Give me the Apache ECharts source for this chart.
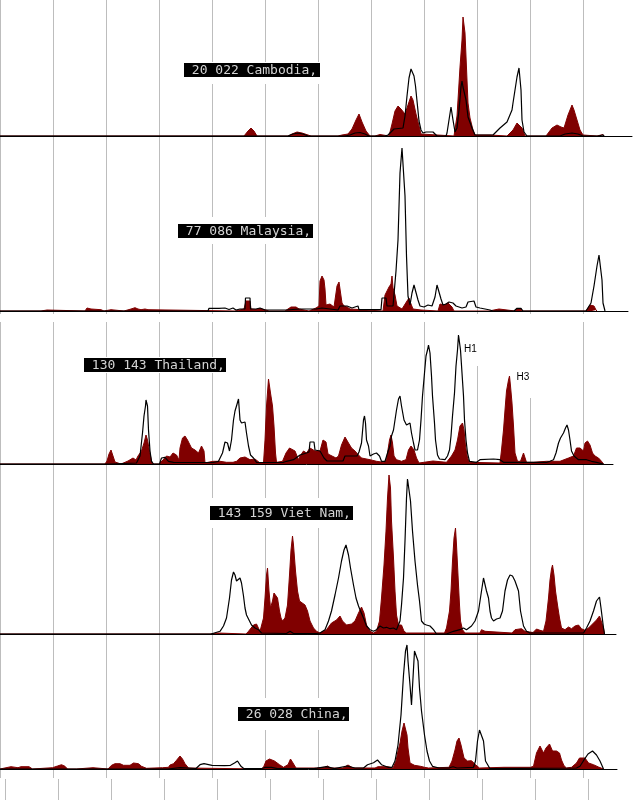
<!DOCTYPE html>
<html>
<head>
<meta charset="utf-8">
<title>Influenza H1 / H3 by country</title>
<script src="https://cdn.jsdelivr.net/npm/echarts@6.0.0/dist/echarts.min.js"></script>
<style>
html, body { margin: 0; padding: 0; background: #fff; }
#main { width: 640px; height: 800px; }
</style>
</head>
<body>
<div id="main"></div>
<script>
// x = week position (53 per gridline), y = relative height
var countries = ['Cambodia', 'Malaysia', 'Thailand', 'Viet Nam', 'China'];
var totals = ['20 022', '77 086', '130 143', '143 159', '26 028'];
var subtypes = ['H1', 'H3'];

var cambodiaH3 = [[0,0],[244,0],[248,5],[251,8],[254,5],[257,0],
  [288,0],[292,2],[297,4],[302,3],[308,1],[311,0],
  [338,0],[342,1],[348,2],[352,7],[356,16],[359,22],[362,14],[366,5],[370,0],
  [375,0],[376,1.5],[380,1.5],[381,0],
  [389,0],[392,12],[395,25],[398,30],[401,27],[403,28],[405,22],[407,21],[409,34],[411,40],[413,36],[416,22],[419,10],[421,2],[423,0],
  [454,0],[457,20],[458,36],[460,69],[462,96],[463,119],[464,120],[465,103],[467,56],[468,33],[470,18],[473,6],[475,1],[490,1],[491,0],
  [507,0],[513,6],[517,13],[518,14],[522,8],[525,0],
  [546,0],[552,8],[557,11],[561,9],[564,8],[568,21],[572,31],[574,26],[577,16],[580,6],[583,1],[585,0],
  [597,0],[598,1.5],[603,1.5],[604,0]];
var cambodiaH1 = [[0,0],[288,0],[293,2],[298,3],[303,2],[308,0],
  [345,0],[350,1],[355,3],[360,3.5],[365,2],[369,0],
  [385,0],[388,1],[394,7],[403,8],[405,20],[407,40],[409,58],[411,67],[412.5,68],[414,60],[415.5,50],[417,35],[419,15],[421,6],[423,3],[426,4],[433,4],[437,0],
  [446,0],[447,3],[449,16],[451,29],[452,28],[453,16],[455,4],[457,8],[459,26],[461,49],[462,55],[463,49],[466,36],[468,19],[472,8],[475,1],[493,1],
  [500,8],[507,14],[512,26],[513,33],[517,59],[519,68],[521,46],[522,16],[524,4],[527,0],
  [560,0],[565,2],[572,3],[578,2],[583,0],
  [598,0],[600,1],[603,1],[604,0]];

var malaysiaH3 = [[0,0],[41,0],[42,1],[47,1],[48,0],
  [85,0],[87,3],[89,5],[91,2],[93,1.3],[101,1.3],[102,0],[104,0],[105,1.3],[111,1.3],[112,0],
  [124,0],[125,2],[131,2],[135,3.3],[138,2],[141,1.3],[145,2],[148,1.3],[150,0],
  [235,0],[237,1.5],[244,2],[246,10],[250,10],[251,2],[256,1.5],[260,2.5],[264,1.5],[269,0],
  [285,0],[287,2],[291,4],[293,6],[296,4],[299,2],[301,0],
  [309,0],[311,2],[316,3],[319,5],[320,30],[322,35],[324,31],[325,22],[326,6],[328,5],[330,7],[334,4],[336,6],[337,25],[339,29],[341,28],[342,8],[344,5],[347,4],[350,2],[352,0],
  [383,0],[385,16],[387,20],[389,24],[391,27],[392,35],[393,23],[395,16],[397,5],[399,3],[402,2],[404,3],[407,10],[409,13],[411,7],[413,2],[421,1],[422,0],
  [438,0],[440,7],[444,6],[448,8],[452,4],[454,0],
  [489,0],[490,2],[499,2],[500,0],[515,0],[517,2.5],[521,2.5],[522,0],
  [586,0],[588,3],[590,6],[592,8],[594,5],[596,1],[597,0]];
var malaysiaH1 = [[0,0],[208,0],[209,2.7],[219,2.7],[221,1],[225,3],[229,1.5],[233,3],[236,1],[240,2],[245,2],[245.5,13],[250,13],[250.5,2],
  [256,2],[260,3],[265,1],[286,1],[300,2],[316,2],[317,3],[322,3],[323,1],[338,1],[340,5],[347,5],[348,3],[352,3],[352.5,5],[358,5],[359,1.3],
  [381,1.3],[382,13],[386,13],[387,5],[393,5],[396,40],[398,71],[400,138],[402,163],[403.5,164],[405,115],[406.5,55],[408,15],[410,6],
  [412,18],[414,26],[416,24],[418,11],[420,5],[424,4],[428,6],[432,5],[435,14],[437,26],[439,25],[441,12],[443,6],[446,7],[449,9],[453,8],
  [456,5],[462,3],[466,4],[468,9],[470,11],[474,10],[476,4],[480,3],[485,2],[490,1],[493,0],
  [514,0],[517,2.7],[521,2.7],[523,0],
  [586,0],[588,2],[591,8],[594,25],[597,45],[599,56],[600,56],[602,31],[603,8],[605,0]];

var thailandH3 = [[0,0],[105,0],[107,3],[109,10],[111,14],[113,8],[115,2],[117,0],
  [121,0],[123,2],[128,3],[133,6],[136,4],[138,8],[141.5,13],[144,21],[146,29],[147.5,24],[149.5,13],[151.5,3],[153,0],
  [159,0],[163,4],[166.5,8],[170,7],[173,11],[176.5,9],[179,4],[180,16],[182.5,26],[185,28],[187.5,24],[189.5,25],[191.5,16],[195,14],[198.5,11],[201.5,18],[204,13],[205,1],
  [208,1.7],[213,2.7],[220,2.7],[226.5,1.7],[233,1.7],[236.5,2.7],[240,6],[245,7],[250,4.3],[255,5],[260,1],
  [263.5,1],[265,24],[266.5,58],[268.5,85],[269.5,87],[270.5,71],[272.5,58],[274,38],[275.5,11],[276.5,1.7],
  [282.5,2.7],[286,11],[289.5,16],[291.5,18],[295,13],[298.5,4.3],[300,8],[303.5,13],[306.5,11],[310,16],[315,13],[320,13],[323,24],[326,22],[328,10],[332,8],[336,6],
  [338.5,8],[341.5,19],[345,27],[348.5,21],[351.5,16],[355,13],[358.5,9],[361.5,6],[363.5,6],[370,4.3],[376.5,2.7],[383.5,1.7],
  [386.5,4.3],[387.5,11],[389.5,24],[391,29],[392.5,21],[394,8],[396.5,4.3],[401.5,2.7],[406,4.3],[408.5,14],[411,18],[414,14],[416.5,6],[419,1],[433,3],[446.5,1.7],
  [448.5,2.7],[451.5,8],[455,14],[457.5,24],[460,38],[462.5,41],[464,34],[465.5,18],[467.5,6],[469.5,1.7],[500,1],
  [501.5,14],[503.5,34],[505,54],[506.5,73],[508.5,84],[509.5,88],[510.5,78],[512,61],[513.5,38],[515,11],[517.5,2.7],
  [520.5,2.7],[523.5,11],[525,10],[526.5,1.7],[533.5,1.7],[546.5,2.7],[560,2.7],[568.5,6],[573.5,8],
  [576.5,16],[580,16],[583.5,13],[585,21],[587.5,23],[590,19],[592.5,11],[595,8],[598.5,6],[601.5,2.7],[603.5,0]];
var thailandH1 = [[0,0],[110,0],[112,1],[136.5,1],[140,8],[142.5,31],[144,48],[145.5,58],[146,64],[147.5,58],[148.5,34],[150,13],[151.5,2.7],[153.5,0],
  [159.5,0],[161.5,6],[165,6.7],[168.5,2.7],[173.5,1.7],[213,1.5],[218.5,2.7],[222.5,11],[225,22],[227.5,21],[229.5,13],[231.5,24],
  [233.5,44],[235,53],[236.5,58],[238.5,65],[240,44],[241.5,41],[243.5,43],[245,42],[246.5,31],[248.5,18],[250.5,9],[253.5,6],[256.5,1.7],
  [283,1.5],[286.5,2.7],[293.5,4.3],[300,9],[306.5,11],[309,12],[310,22],[314,22],[315,14],[320,13],[324,6],[327,3],[343,3],[345,8],[357,8],
  [359,12],[361.5,21],[363.5,44],[364.5,48],[365.5,41],[366.5,24],[368.5,18],[370,8],[371.5,7],[373.5,10],[376.5,11],[379.5,8],[381.5,2.7],[385,2.7],
  [388.5,14],[390,18],[391.5,28],[393.5,34],[395,36],[396.5,54],[398.5,65],[400,68],[401.5,58],[404,44],[405,46],[406.5,39],[408.5,41],[410,41],
  [411.5,31],[413.5,21],[415,14],[417.5,14],[419.5,24],[421,44],[422.5,68],[424.5,91],[426,108],[427.5,114],[428.5,119],[430,111],[431.5,88],
  [432.5,68],[434.5,41],[435.5,24],[437.5,9],[439.5,5],[445,4.3],[447.5,8],[449.5,14],[451,28],[452.5,48],[454.5,71],[456,98],[457.5,114],
  [458.5,129],[459.5,131],[460.5,114],[462,91],[463.5,68],[464.5,44],[466,24],[467.5,11],[469.5,2.7],[476.5,1.7],[480,4.3],[493.5,5],[500,4.3],
  [503.5,1.7],[546.5,1.7],[550,2.7],[553.5,4.3],[556,11],[558.5,21],[560.5,26],[563.5,31],[565.5,36],[567,39],[568.5,34],[570,24],[571.5,13],
  [574,8],[578.5,4.3],[586.5,4.3],[591.5,2.7],[596.5,1.7],[603.5,0]];

var vietnamH3 = [[0,0],[210,0],[211,1],[218,1],[219,0],[246,0],[248.5,2.7],[253.5,9],[256.5,10],[260,2.7],[261.5,3.3],
  [263.5,16],[265,36],[266.5,59],[267.5,66],[269,43],[270.5,26],[272.5,33],[274,41],[276,41],[277.5,36],[279.5,23],[281,16],[282.5,13],
  [285,16],[287.5,29],[289.5,59],[291,84],[292.5,98],[293.5,89],[295.5,63],[297.5,43],[299.5,33],[301.5,31],[305,29],[307.5,23],[310,13],
  [313.5,6],[316.5,2.7],[320,1],[326.5,4.3],[331.5,11],[336.5,14],[340,18],[342.5,13],[346.5,9],[351.5,10],[355,13],[358.5,21],[361.5,27],
  [364,21],[366.5,9],[370,2.7],[373.5,1],[376.5,2.7],[379.5,13],[381.5,36],[384,69],[386,103],[387.5,136],[389,159],[390.5,146],[391.5,113],
  [393.5,76],[395,43],[396.5,19],[398.5,9],[401.5,9],[404,2.7],[406.5,1],[444.5,1],[446.5,6],[449.5,23],[451,43],[452.5,73],[454,96],
  [455.5,106],[456.5,89],[458,59],[459.5,29],[460.5,13],[462.5,4.3],[465,1],[480,1],[481.5,4.3],[485,2.7],[512,1],[515,4.3],[521.5,5.3],
  [525,2.7],[533,1.5],[536.5,5],[540,3.7],[543.5,2.7],[546,13],[548.5,36],[550,54],[551.5,65],[552.5,69],[554,59],[555.5,43],[557.5,29],
  [559.5,16],[561.5,6],[565,4.3],[568.5,7],[571.5,5.3],[575,8],[578.5,9],[581.5,5.3],[585,3.7],[588.5,6],[593.5,11],[596.5,14],[599.5,18],
  [601.5,16],[603.5,6],[604.5,0]];
var vietnamH1 = [[0,0],[211,0],[212,1],[220,2.7],[223.5,8],[226.5,16],[229.5,36],[231.5,54],[233.5,62],[235,59],[236.5,53],[238.5,54],
  [240,56],[241.5,51],[243.5,38],[245,26],[246.5,19],[249.5,13],[251.5,9],[255,6],[258.5,4.3],[261.5,1],[286.5,0.5],[290,2.7],[293.5,0.5],
  [316.5,0.5],[320,1],[325,4.3],[328.5,13],[331.5,23],[335,39],[338.5,56],[341.5,73],[344,84],[346,89],[348.5,79],[350.5,66],[353.5,49],
  [356,36],[358.5,28],[360.5,23],[363.5,16],[366.5,8],[370,4.3],[373.5,2.7],[376.5,4.3],[380,8],[383.5,6],[386.5,6.7],[390,5.3],[393.5,6],
  [396.5,4.3],[400,13],[401.5,29],[403.5,56],[405,93],[406.5,136],[407.5,155],[409.5,154],[410.5,133],[412.5,103],[415,73],[417.5,49],
  [419.5,33],[421.5,13],[424,10],[426.5,9],[430,8],[433.5,4.3],[436.5,0],[446.5,0],[453.5,2.7],[460,4.3],[463.5,6],[466.5,4.3],[471.5,8],
  [475,13],[478.5,23],[481.5,43],[483.5,56],[485,58],[486.5,43],[488.5,36],[490,23],[491.5,16],[493.5,13],[496.5,15],[500,16],[502.5,23],
  [505,43],[507.5,54],[510,59],[512.5,58],[515,53],[518.5,43],[520.5,23],[523.5,8],[526.5,2.7],[530,1],[583.5,1],[586.5,6],[590,13],
  [593.5,23],[596.5,33],[599.5,37],[601,26],[603.5,6],[604.5,0]];

var chinaH3 = [[0,0],[1,1.3],[11,2.3],[18,1.3],[21,2.3],[29,2.3],[32.5,0],[52.5,1.3],[57.5,3],[61.5,4.3],[65,2.7],[67.5,0],
  [76.5,0],[77,1.3],[93,1.3],[93.5,0],[108,0],[109.5,1.3],[111.5,3.7],[115,5.3],[120,5.3],[123.5,3.7],[130,3.7],[133.5,6],[135.5,7.3],
  [138.5,5.3],[141.5,2.7],[146.5,0.7],[162.5,1.3],[168.5,1.7],[170,4],[173.5,5.3],[176.5,8.7],[180,13],[182.5,10],[185,5.3],[188.5,1],[190,0],
  [261,0],[263.5,1.7],[266,8],[269.5,10],[274.5,8],[279.5,4.3],[283.5,1.7],[288,4.3],[290.5,10],[293,6],[296,1],[316.5,1],[324.5,1.7],
  [327.5,3],[330.5,1],[343,1],[348,4],[353,1],[375,1],[378,2.3],[388,2.3],[393,1],[396,8],[398,18],[400,26],[402,38],[404,46],[405.5,47],
  [407,34],[408,21],[410,6],[414.5,3.7],[420.5,2.7],[424.5,1.7],[428.5,1],[449,1.7],[452,8],[455,19],[457,28],[459,31],[461,24],[464,11],
  [467.5,8],[471.5,8.3],[475.5,4.3],[479.5,1],[504,1.7],[530.5,1.7],[533.5,2.7],[536.5,16],[540,23],[543.5,16],[546,21],[549.5,25],
  [552.5,18],[556.5,18],[559.5,16],[561.5,9],[564,3.3],[566.5,1],[571.5,1.7],[576.5,6],[579.5,11],[581.5,12],[585,11],[588.5,6],
  [593.5,4.3],[598.5,2],[603.5,0]];
var chinaH1 = [[0,0],[168,0],[168.5,1.3],[180,1.3],[180.5,0],[196,0.5],[200,4.3],[204,5.3],[212,3.7],[224.5,3.3],[230.5,3.7],[234.5,6],
  [237.5,8],[241,2.7],[244,0.3],[261,0.3],[265.5,1.7],[271.5,1.7],[277.5,0.3],[314,0.3],[326.5,2.3],[334.5,0.3],[347,3],[355,1],[363.5,1],
  [367.5,4.3],[373.5,6.3],[377.5,9],[381.5,4.3],[388,1.7],[392,1.7],[395,8],[398,24],[401,54],[403.5,94],[405.5,118],[407,124],[408,108],
  [410,84],[411.5,64],[413,91],[414.5,118],[416.5,119],[418,108],[419.5,81],[421.5,58],[424.5,34],[427,18],[429.5,8],[432.5,2.7],[439,1],
  [449,1],[453,2.3],[457,1],[473.5,1.7],[475.5,8],[477.5,28],[479.5,39],[481.5,41],[483.5,28],[485.5,8],[490,0.3],[576.5,1],[580,2.7],
  [583.5,8.3],[588,15],[592.5,18],[596.5,14],[600,8],[603.5,0]];

var h3Data = [cambodiaH3, malaysiaH3, thailandH3, vietnamH3, chinaH3];
var h1Data = [cambodiaH1, malaysiaH1, thailandH1, vietnamH1, chinaH1];

// panel layout (pixels)
var panelTop = [0, 136, 311, 464, 634];
var panelHeight = [136, 175, 153, 170, 135];
var panelWidth = [632, 628, 613, 616, 617];
var labelBox = [[184, 63, 136, 14], [178, 224, 135, 14], [84, 358, 142, 14], [210, 506, 143, 14], [238, 707, 111, 14]];
var labelGap = [[183, 62, 139, 22], [177, 217, 138, 27], [83, 357, 145, 16], [209, 498, 146, 30], [237, 698, 114, 32]];

var myChart = echarts.init(document.getElementById('main'));

var grids = [
  { left: 0, top: 0, width: 620, height: 778 },   // vertical gridlines
  { left: 5, top: 779, width: 600, height: 21 }   // offset ticks at the bottom
];
var xAxes = [
  { type: 'value', gridIndex: 0, min: 0, max: 620, interval: 53, show: true,
    axisLine: { show: false }, axisTick: { show: false }, axisLabel: { show: false },
    splitLine: { show: true, showMaxLine: false, lineStyle: { color: '#bdbdbd', width: 1 } } },
  { type: 'value', gridIndex: 1, min: 0, max: 600, interval: 53, show: true,
    axisLine: { show: false }, axisTick: { show: false }, axisLabel: { show: false },
    splitLine: { show: true, showMaxLine: false, lineStyle: { color: '#bdbdbd', width: 1 } } }
];
var yAxes = [
  { type: 'value', gridIndex: 0, show: false, min: 0, max: 1 },
  { type: 'value', gridIndex: 1, show: false, min: 0, max: 1 }
];
var series = [];

for (var i = 0; i < countries.length; i++) {
  grids.push({ left: 0, top: panelTop[i], width: panelWidth[i], height: panelHeight[i] });
  xAxes.push({
    type: 'value', gridIndex: i + 2, min: 0, max: panelWidth[i], z: 5,
    axisLine: { show: true, onZero: false, lineStyle: { color: '#000', width: 1 } },
    axisTick: { show: false }, axisLabel: { show: false }, splitLine: { show: false }
  });
  yAxes.push({ type: 'value', gridIndex: i + 2, min: 0, max: panelHeight[i], show: false });
  series.push({
    name: countries[i] + ' ' + subtypes[1], type: 'line', xAxisIndex: i + 2, yAxisIndex: i + 2,
    data: h3Data[i], symbol: 'none', silent: true, z: 2,
    lineStyle: { color: '#800000', width: 1 },
    areaStyle: { color: '#800000', opacity: 1 }
  });
  series.push({
    name: countries[i] + ' ' + subtypes[0], type: 'line', xAxisIndex: i + 2, yAxisIndex: i + 2,
    data: h1Data[i], symbol: 'none', silent: true, z: 3,
    lineStyle: { color: '#000', width: 1.2 }
  });
}

var graphics = [
  { type: 'rect', shape: { x: 0, y: 314, width: 640, height: 8 }, style: { fill: '#fff' }, z: 100 },
  { type: 'rect', shape: { x: 466, y: 315, width: 14, height: 51 }, style: { fill: '#fff' }, z: 100 },
  { type: 'rect', shape: { x: 514, y: 315, width: 20, height: 83 }, style: { fill: '#fff' }, z: 100 },
  { type: 'text', x: 464, y: 349, style: { text: subtypes[0], fill: '#000', font: '10px "Liberation Sans"', verticalAlign: 'middle' }, z: 102 },
  { type: 'text', x: 516.5, y: 377.5, style: { text: subtypes[1], fill: '#000', font: '10px "Liberation Sans"', verticalAlign: 'middle' }, z: 102 }
];
for (var j = 0; j < countries.length; j++) {
  var g = labelGap[j], b = labelBox[j];
  graphics.push({ type: 'rect', shape: { x: g[0], y: g[1], width: g[2], height: g[3] }, style: { fill: '#fff' }, z: 100 });
  graphics.push({ type: 'rect', shape: { x: b[0], y: b[1], width: b[2], height: b[3] }, style: { fill: '#000' }, z: 101 });
  graphics.push({
    type: 'text', x: b[0], y: b[1] + b[3] / 2 + 0.5,
    style: { text: ' ' + totals[j] + ' ' + countries[j] + ',', fill: '#d4d4d4',
      font: '13px "DejaVu Sans Mono"', verticalAlign: 'middle' },
    z: 102
  });
}

var option = {
  animation: false,
  backgroundColor: '#fff',
  grid: grids,
  xAxis: xAxes,
  yAxis: yAxes,
  series: series,
  graphic: { elements: graphics }
};
myChart.setOption(option);
</script>
</body>
</html>
